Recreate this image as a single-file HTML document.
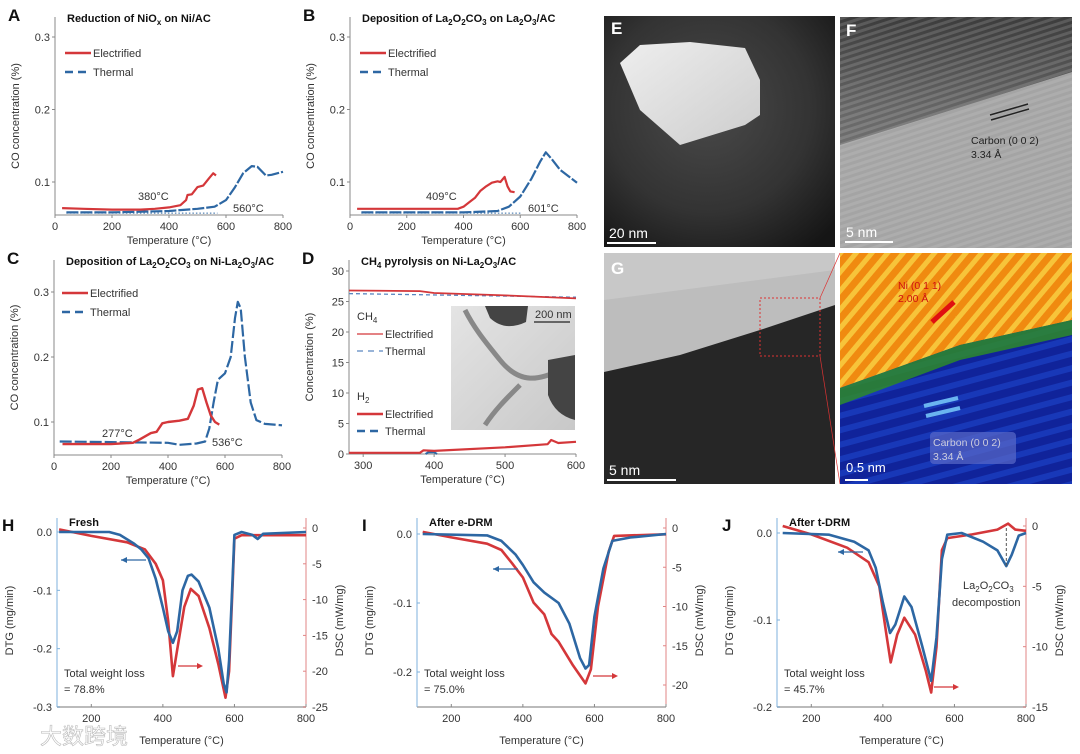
<!DOCTYPE html>
<html><head><meta charset="utf-8">
<style>
body{margin:0;background:#fff;}
svg{display:block;font-family:"Liberation Sans",Arial,sans-serif;}
.t{font-size:10.5px;fill:#333}
.ttl{font-size:11px;font-weight:bold;fill:#111}
.lt{font-size:17px;font-weight:bold;fill:#111}
.ax{font-size:11px;fill:#333}
</style></head><body>
<svg id="fig" width="1080" height="754" viewBox="0 0 1080 754">
<defs>
<radialGradient id="gE" cx="0.45" cy="0.4" r="0.75"><stop offset="0" stop-color="#4a4a4a"/><stop offset="0.6" stop-color="#333"/><stop offset="1" stop-color="#151515"/></radialGradient>
<linearGradient id="gP" x1="0" y1="0" x2="1" y2="1"><stop offset="0" stop-color="#eeeeee"/><stop offset="1" stop-color="#cdcdcd"/></linearGradient>
<linearGradient id="gF" x1="0" y1="0" x2="0" y2="1"><stop offset="0" stop-color="#3c3c3c"/><stop offset="0.4" stop-color="#666"/><stop offset="1" stop-color="#8a8a8a"/></linearGradient>
<pattern id="stripesF" width="6" height="6" patternUnits="userSpaceOnUse" patternTransform="rotate(-18)"><rect width="6" height="3" fill="#d8d8d8" opacity="0.18"/></pattern>
<pattern id="stripesO" width="12" height="12" patternUnits="userSpaceOnUse" patternTransform="rotate(-50)"><rect width="12" height="12" fill="#f08a10"/><rect width="12" height="5" fill="#f7c43a"/></pattern>
<pattern id="stripesB" width="14" height="14" patternUnits="userSpaceOnUse" patternTransform="rotate(-15)"><rect width="14" height="14" fill="#10239a"/><rect width="14" height="6" fill="#1838b8"/></pattern>
<linearGradient id="gIn" x1="0" y1="0" x2="1" y2="1"><stop offset="0" stop-color="#e4e4e4"/><stop offset="1" stop-color="#c8c8c8"/></linearGradient>
</defs>

<g>
<rect x="604" y="16" width="231" height="231" fill="url(#gE)"/>
<polygon points="620,63 640,45 690,42 745,48 760,80 760,115 745,125 680,145 640,110" fill="url(#gP)"/>
<text x="611" y="34" class="lt" style="fill:#fff">E</text>
<line x1="607" y1="243" x2="656" y2="243" stroke="#fff" stroke-width="2"/>
<text x="609" y="238" style="fill:#fff;font-size:14px">20 nm</text>
</g>
<g>
<rect x="840" y="17" width="232" height="231" fill="url(#gF)"/>
<polygon points="840,145 920,120 1072,72 1072,248 840,248" fill="#a4a4a4"/>
<rect x="840" y="17" width="232" height="231" fill="url(#stripesF)"/>
<line x1="990" y1="115" x2="1028" y2="104" stroke="#222" stroke-width="1.5"/>
<line x1="991" y1="120" x2="1029" y2="109" stroke="#222" stroke-width="1.5"/>
<text x="971" y="144" style="fill:#222;font-size:10.5px">Carbon (0 0 2)</text>
<text x="971" y="158" style="fill:#222;font-size:10.5px">3.34 Å</text>
<text x="846" y="36" class="lt" style="fill:#fff">F</text>
<line x1="845" y1="242" x2="893" y2="242" stroke="#fff" stroke-width="2"/>
<text x="846" y="237" style="fill:#fff;font-size:14px">5 nm</text>
</g>
<g>
<rect x="604" y="253" width="231" height="231" fill="#262626"/>
<polygon points="604,253 835,253 835,305 760,330 680,355 604,372" fill="#bdbdbd"/>
<polygon points="604,253 835,253 835,270 604,300" fill="#cfcfcf" opacity="0.6"/>
<rect x="760" y="298" width="60" height="58" fill="none" stroke="#d33" stroke-width="1" stroke-dasharray="2,2"/>
<line x1="820" y1="298" x2="840" y2="253" stroke="#d33" stroke-width="0.7"/>
<line x1="820" y1="356" x2="840" y2="484" stroke="#d33" stroke-width="0.7"/>
<text x="611" y="274" class="lt" style="fill:#fff">G</text>
<line x1="607" y1="480" x2="676" y2="480" stroke="#fff" stroke-width="2"/>
<text x="609" y="475" style="fill:#fff;font-size:14px">5 nm</text>
</g>
<g>
<rect x="840" y="253" width="232" height="231" fill="url(#stripesB)"/>
<polygon points="840,253 1072,253 1072,320 960,345 840,388" fill="url(#stripesO)"/>
<polygon points="840,388 960,345 1072,320 1072,335 960,360 840,405" fill="#2e8a2a" opacity="0.85"/>
<line x1="932" y1="322" x2="954" y2="302" stroke="#e01010" stroke-width="5"/>
<text x="898" y="289" style="fill:#d01010;font-size:10.5px">Ni (0 1 1)</text>
<text x="898" y="302" style="fill:#d01010;font-size:10.5px">2.00 Å</text>
<line x1="924" y1="406" x2="958" y2="398" stroke="#6ab4f0" stroke-width="4"/>
<line x1="926" y1="416" x2="960" y2="408" stroke="#6ab4f0" stroke-width="4"/>
<rect x="930" y="432" width="86" height="32" rx="4" fill="#5a6ac8" opacity="0.7"/>
<text x="933" y="446" style="fill:#ccd;font-size:10.5px">Carbon (0 0 2)</text>
<text x="933" y="460" style="fill:#ccd;font-size:10.5px">3.34 Å</text>
<line x1="845" y1="480" x2="868" y2="480" stroke="#fff" stroke-width="2"/>
<text x="846" y="472" style="fill:#fff;font-size:13px">0.5 nm</text>
</g>
</svg>
<script>
// ---- Data: panel A ----
const aElecT=[25,100,200,300,350,400,440,460,465,480,500,520,540,555,565];
const aElecV=[0.064,0.063,0.062,0.062,0.063,0.065,0.068,0.075,0.082,0.083,0.093,0.095,0.105,0.112,0.109];
const aThermT=[40,200,400,500,560,600,630,660,690,710,740,760,800];
const aThermV=[0.058,0.058,0.060,0.063,0.066,0.075,0.092,0.112,0.122,0.121,0.109,0.110,0.114];
// panel B
const bElecT=[25,200,380,400,420,440,460,480,500,520,530,545,555,565,580];
const bElecV=[0.063,0.063,0.063,0.066,0.072,0.078,0.088,0.094,0.099,0.101,0.100,0.107,0.094,0.087,0.086];
const bThermT=[40,400,520,560,600,640,670,690,710,740,770,800];
const bThermV=[0.058,0.058,0.060,0.066,0.080,0.105,0.128,0.141,0.132,0.117,0.108,0.099];
// panel C
const cElecT=[30,100,200,277,300,340,360,380,400,440,470,490,505,520,535,550,565,580];
const cElecV=[0.066,0.066,0.066,0.068,0.073,0.083,0.085,0.098,0.100,0.102,0.105,0.125,0.150,0.152,0.130,0.110,0.100,0.096];
const cThermT=[20,200,400,440,500,530,545,560,575,600,620,635,645,655,670,690,710,740,800];
const cThermV=[0.070,0.069,0.068,0.065,0.067,0.070,0.090,0.130,0.165,0.175,0.200,0.260,0.285,0.275,0.200,0.130,0.103,0.097,0.095];
// panel D
const dCh4ElecT=[280,380,400,500,600];
const dCh4ElecV=[26.8,26.7,26.4,26.0,25.5];
const dCh4ThermT=[280,600];
const dCh4ThermV=[26.3,25.7];
const dH2ElecT=[280,380,385,400,500,560,565,575,600];
const dH2ElecV=[0.2,0.2,0.6,0.5,1.1,1.6,2.3,1.8,2.0];
const dH2ThermT=[388,392,400,404];
const dH2ThermV=[0.0,0.3,0.3,0.0];
// panel H
const hDtgT=[110,200,250,280,320,340,360,380,400,415,428,440,455,470,480,500,530,555,570,578,585,595,600,620,650,665,680,800];
const hDtgV=[0,0,0,-0.005,-0.02,-0.03,-0.045,-0.08,-0.13,-0.17,-0.19,-0.17,-0.10,-0.075,-0.073,-0.085,-0.13,-0.20,-0.26,-0.275,-0.22,-0.08,-0.005,0,-0.005,-0.012,-0.003,0];
const hDscT=[110,200,300,350,380,400,415,428,440,460,478,500,530,555,575,585,595,600,620,800];
const hDscV=[-0.2,-1.1,-2,-3,-5,-7.3,-13,-20.7,-17,-11,-8.5,-9.5,-14,-19,-23.7,-20,-8,-1.5,-1,-1];
// panel I
const iDtgT=[120,300,340,380,400,430,460,500,530,560,575,585,600,625,650,700,800];
const iDtgV=[0,-0.002,-0.01,-0.03,-0.045,-0.07,-0.085,-0.10,-0.13,-0.18,-0.195,-0.19,-0.12,-0.05,-0.01,-0.005,0];
const iDscT=[120,200,300,340,370,400,430,460,480,500,540,575,590,610,640,655,800];
const iDscV=[-0.5,-1.2,-2,-2.8,-4.5,-6.3,-9.5,-11,-13.5,-14.5,-17.5,-19.8,-18,-10,-3,-1,-0.8];
// panel J
const jDtgT=[120,250,320,360,380,400,420,435,460,480,510,535,550,565,580,620,680,720,745,760,780,800];
const jDtgV=[0,-0.002,-0.01,-0.02,-0.04,-0.08,-0.115,-0.105,-0.073,-0.085,-0.13,-0.17,-0.12,-0.03,-0.002,0,-0.01,-0.02,-0.038,-0.025,-0.003,0];
const jDscT=[120,200,300,360,390,410,422,440,460,490,520,535,550,565,580,650,720,750,770,800];
const jDscV=[0,-0.7,-1.8,-3,-5,-9,-11.3,-9,-7.6,-9,-12,-13.8,-10,-2,-1,-0.7,-0.3,0.2,-0.3,-0.4];

const RED="#d4373a", BLUE="#2d67a3";
const NS="http://www.w3.org/2000/svg";
const svg=document.getElementById('fig');
function mk(tag,attrs,parent){const e=document.createElementNS(NS,tag);for(const k in attrs)e.setAttribute(k,attrs[k]);(parent||svg).appendChild(e);return e;}
function txt(x,y,s,attrs,parent){const e=mk('text',Object.assign({x:x,y:y},attrs||{}),parent);e.innerHTML=s;return e;}
function lin(t0,t1,p0,p1){return v=>p0+(v-t0)*(p1-p0)/(t1-t0);}
function path(g,T,V,sx,sy,color,w,dash){
  let d='';for(let i=0;i<T.length;i++){d+=(i?'L':'M')+sx(T[i]).toFixed(1)+','+sy(V[i]).toFixed(1);}
  const a={d:d,fill:'none',stroke:color,'stroke-width':w,'stroke-linejoin':'round'};if(dash)a['stroke-dasharray']=dash;
  return mk('path',a,g);
}

function coPanel(name,letter,x0,x1,ytop,y3,y1,ybot,title,tmin,tmax,ticksX,ticksY,ylab){
  const g=mk('g',{},svg);
  
  
  const sx=lin(tmin,tmax,x0,x1);
  const sy=lin(ticksY.hi,ticksY.lo,y3,y1);
  mk('line',{x1:x0,y1:ytop,x2:x0,y2:ybot,stroke:'#888','stroke-width':1},g);
  mk('line',{x1:x0,y1:ybot,x2:x1,y2:ybot,stroke:'#888','stroke-width':1},g);
  ticksX.forEach(t=>{mk('line',{x1:sx(t),y1:ybot,x2:sx(t),y2:ybot+3,stroke:'#888'},g);txt(sx(t),ybot+15,t,{class:'ax','text-anchor':'middle'},g);});
  ticksY.vals.forEach(v=>{mk('line',{x1:x0,y1:sy(v),x2:x0-3,y2:sy(v),stroke:'#888'},g);txt(x0-5,sy(v)+4,ticksY.fmt(v),{class:'ax','text-anchor':'end'},g);});
  const yl=txt(0,0,ylab,{class:'ax','text-anchor':'middle',transform:`translate(${x0-36},${(ytop+ybot)/2}) rotate(-90)`},g);
  
  
  const xl=txt((x0+x1)/2,ybot+29,'Temperature (°C)',{class:'ax','text-anchor':'middle'},g);
  
  
  txt(x0-47,ytop+4,letter,{class:'lt'},g);
  txt(x0+12,ytop+5,title,{class:'ttl'},g);
  return {g,sx,sy};
}
const fmt1=v=>v.toFixed(1);
function legend(g,x,y,lbl,color,dash,w){mk('line',{x1:x,y1:y,x2:x+26,y2:y,stroke:color,'stroke-width':w||2.5,'stroke-dasharray':dash||''},g);txt(x+28,y+4,lbl,{class:'ax'},g);}
const sub=s=>`<tspan font-size="8" dy="3">${s}</tspan><tspan dy="-3">`;

let P=coPanel('panel-a-chart','A',55,283,17,37,182,215,'Reduction of NiO'+sub('x')+' on Ni/AC</tspan>',0,800,[0,200,400,600,800],{hi:0.3,lo:0.1,vals:[0.1,0.2,0.3],fmt:fmt1},'CO concentration (%)');
legend(P.g,65,53,'Electrified',RED);legend(P.g,65,72,'Thermal',BLUE,'8,5');
mk('line',{x1:P.sx(40),y1:P.sy(0.057),x2:P.sx(570),y2:P.sy(0.057),stroke:BLUE,'stroke-dasharray':'1.5,2'},P.g);
path(P.g,aThermT,aThermV,P.sx,P.sy,BLUE,2.2,'12,2');
path(P.g,aElecT,aElecV,P.sx,P.sy,RED,2.2);
txt(138,200,'380°C',{class:'ax'},P.g);txt(233,212,'560°C',{class:'ax'},P.g);

P=coPanel('panel-b-chart','B',350,577,17,37,182,215,'Deposition of La'+sub('2')+'O</tspan>'+sub('2')+'CO</tspan>'+sub('3')+' on La</tspan>'+sub('2')+'O</tspan>'+sub('3')+'/AC</tspan>',0,800,[0,200,400,600,800],{hi:0.3,lo:0.1,vals:[0.1,0.2,0.3],fmt:fmt1},'CO concentration (%)');
legend(P.g,360,53,'Electrified',RED);legend(P.g,360,72,'Thermal',BLUE,'8,5');
mk('line',{x1:P.sx(40),y1:P.sy(0.057),x2:P.sx(605),y2:P.sy(0.057),stroke:BLUE,'stroke-dasharray':'1.5,2'},P.g);
path(P.g,bThermT,bThermV,P.sx,P.sy,BLUE,2.2,'12,2');
path(P.g,bElecT,bElecV,P.sx,P.sy,RED,2.2);
txt(426,200,'409°C',{class:'ax'},P.g);txt(528,212,'601°C',{class:'ax'},P.g);

P=coPanel('panel-c-chart','C',54,282,260,292,422,455,'Deposition of La'+sub('2')+'O</tspan>'+sub('2')+'CO</tspan>'+sub('3')+' on Ni-La</tspan>'+sub('2')+'O</tspan>'+sub('3')+'/AC</tspan>',0,800,[0,200,400,600,800],{hi:0.3,lo:0.1,vals:[0.1,0.2,0.3],fmt:fmt1},'CO concentration (%)');
legend(P.g,62,293,'Electrified',RED);legend(P.g,62,312,'Thermal',BLUE,'8,5');
path(P.g,cThermT,cThermV,P.sx,P.sy,BLUE,2.2,'12,3');
path(P.g,cElecT,cElecV,P.sx,P.sy,RED,2.4);
txt(102,437,'277°C',{class:'ax'},P.g);txt(212,446,'536°C',{class:'ax'},P.g);

P=coPanel('panel-d-chart','D',349,576,260,271,454,454,'CH'+sub('4')+' pyrolysis on Ni-La</tspan>'+sub('2')+'O</tspan>'+sub('3')+'/AC</tspan>',280,600,[300,400,500,600],{hi:30,lo:0,vals:[0,5,10,15,20,25,30],fmt:v=>v},'Concentration (%)');
mk('rect',{x:451,y:306,width:124,height:124,fill:'url(#gIn)'},P.g);
mk('path',{d:'M465,310 C475,330 488,345 500,360 C520,385 540,380 560,370 M520,385 C505,400 495,410 485,425',fill:'none',stroke:'#888','stroke-width':5},P.g);
mk('path',{d:'M485,306 L528,306 L526,322 Q505,332 490,318 Z M548,360 L575,355 L575,420 Q555,415 548,395 Z',fill:'#444'},P.g);
mk('line',{x1:534,y1:322,x2:570,y2:322,stroke:'#222','stroke-width':1.2},P.g);
txt(535,318,'200 nm',{class:'ax'},P.g);
txt(357,320,'CH<tspan font-size="8" dy="3">4</tspan>',{class:'ax'},P.g);
legend(P.g,357,334,'Electrified',RED,'',1.2);legend(P.g,357,351,'Thermal','#5a86c0','6,5',1.2);
txt(357,400,'H<tspan font-size="8" dy="3">2</tspan>',{class:'ax'},P.g);
legend(P.g,357,414,'Electrified',RED);legend(P.g,357,431,'Thermal',BLUE,'8,5');
path(P.g,dCh4ThermT,dCh4ThermV,P.sx,P.sy,'#5a86c0',1.3,'4,3');
path(P.g,dCh4ElecT,dCh4ElecV,P.sx,P.sy,RED,1.8);
path(P.g,dH2ThermT,dH2ThermV,P.sx,P.sy,BLUE,2);
path(P.g,dH2ElecT,dH2ElecV,P.sx,P.sy,RED,2.2);

function taPanel(name,letter,x0,x1,ytop,ybot,dtg,dsc,title,loss,dT,dV,sT,sV,arrows){
  const g=mk('g',{},svg);
  
  
  const sx=lin(200,800,x0+34.3,x1);
  const sd=lin(0,dtg.lo,dtg.p0,dtg.p1);
  const ss=lin(0,dsc.lo,dsc.p0,dsc.p1);
  mk('line',{x1:x0,y1:ybot,x2:x1,y2:ybot,stroke:'#bbb','stroke-width':2},g);
  mk('line',{x1:x0,y1:ytop,x2:x0,y2:ybot,stroke:'#7fb2dc','stroke-width':1},g);
  mk('line',{x1:x1,y1:ytop,x2:x1,y2:ybot,stroke:'#e08585','stroke-width':1},g);
  [200,400,600,800].forEach(t=>{mk('line',{x1:sx(t),y1:ybot,x2:sx(t),y2:ybot-3,stroke:'#888'},g);txt(sx(t),ybot+15,t,{class:'ax','text-anchor':'middle'},g);});
  dtg.ticks.forEach(v=>{mk('line',{x1:x0,y1:sd(v),x2:x0+3,y2:sd(v),stroke:'#7fb2dc'},g);txt(x0-5,sd(v)+4,v.toFixed(1),{class:'ax','text-anchor':'end'},g);});
  dsc.ticks.forEach(v=>{mk('line',{x1:x1,y1:ss(v),x2:x1-3,y2:ss(v),stroke:'#e08585'},g);txt(x1+6,ss(v)+4,v,{class:'ax'},g);});
  const yl=txt(0,0,'DTG (mg/min)',{class:'ax','text-anchor':'middle',transform:`translate(${x0-44},${(ytop+ybot)/2+8}) rotate(-90)`},g);
  
  
  const yr=txt(0,0,'DSC (mW/mg)',{class:'ax','text-anchor':'middle',transform:`translate(${x1+37},${(ytop+ybot)/2+8}) rotate(-90)`},g);
  
  
  const xl=txt((x0+x1)/2,ybot+37,'Temperature (°C)',{class:'ax','text-anchor':'middle'},g);
  
  
  txt(x0-55,ytop+13,letter,{class:'lt'},g);
  txt(x0+12,ytop+8,title,{class:'ttl'},g);
  txt(x0+7,ybot-30,'Total weight loss',{class:'ax'},g);
  txt(x0+7,ybot-14,'= '+loss,{class:'ax'},g);
  path(g,sT,sV,sx,ss,RED,2.6);
  path(g,dT,dV,sx,sd,BLUE,2.6);
  const ba=arrows[0], ra=arrows[1];
  mk('line',{x1:ba[0],y1:ba[1],x2:ba[0]+25,y2:ba[1],stroke:BLUE,'stroke-width':1.3},g);
  mk('polygon',{points:`${ba[0]},${ba[1]} ${ba[0]+6},${ba[1]-3} ${ba[0]+6},${ba[1]+3}`,fill:BLUE},g);
  mk('line',{x1:ra[0],y1:ra[1],x2:ra[0]+20,y2:ra[1],stroke:RED,'stroke-width':1.3},g);
  mk('polygon',{points:`${ra[0]+25},${ra[1]} ${ra[0]+19},${ra[1]-3} ${ra[0]+19},${ra[1]+3}`,fill:RED},g);
  return {g,sx,sd,ss};
}
taPanel('panel-h-chart','H',57,306,518,707,{lo:-0.3,p0:532,p1:707,ticks:[0,-0.1,-0.2,-0.3]},{lo:-25,p0:528,p1:707,ticks:[0,-5,-10,-15,-20,-25]},'Fresh','78.8%',hDtgT,hDtgV,hDscT,hDscV,[[121,560],[178,666]]);
taPanel('panel-i-chart','I',417,666,518,707,{lo:-0.25,p0:534,p1:706.5,ticks:[0,-0.1,-0.2]},{lo:-20,p0:528,p1:685,ticks:[0,-5,-10,-15,-20]},'After e-DRM','75.0%',iDtgT,iDtgV,iDscT,iDscV,[[493,569],[593,676]]);
let J=taPanel('panel-j-chart','J',777,1026,518,707,{lo:-0.2,p0:533,p1:707,ticks:[0,-0.1,-0.2]},{lo:-15,p0:526,p1:707,ticks:[0,-5,-10,-15]},'After t-DRM','45.7%',jDtgT,jDtgV,jDscT,jDscV,[[838,552],[934,687]]);
mk('line',{x1:J.sx(745),y1:528,x2:J.sx(745),y2:568,stroke:'#555','stroke-dasharray':'3,2'},J.g);
txt(963,589,'La'+sub('2')+'O</tspan>'+sub('2')+'CO</tspan>'+sub('3')+'</tspan>',{class:'ax'},J.g);
txt(952,606,'decompostion',{class:'ax'},J.g);
txt(40,744,'大数跨境',{style:'font-family:"Liberation Sans","Noto Sans CJK SC",sans-serif;font-size:22px;fill:#fff;stroke:#bbb;stroke-width:0.6'});
</script>
</body></html>
